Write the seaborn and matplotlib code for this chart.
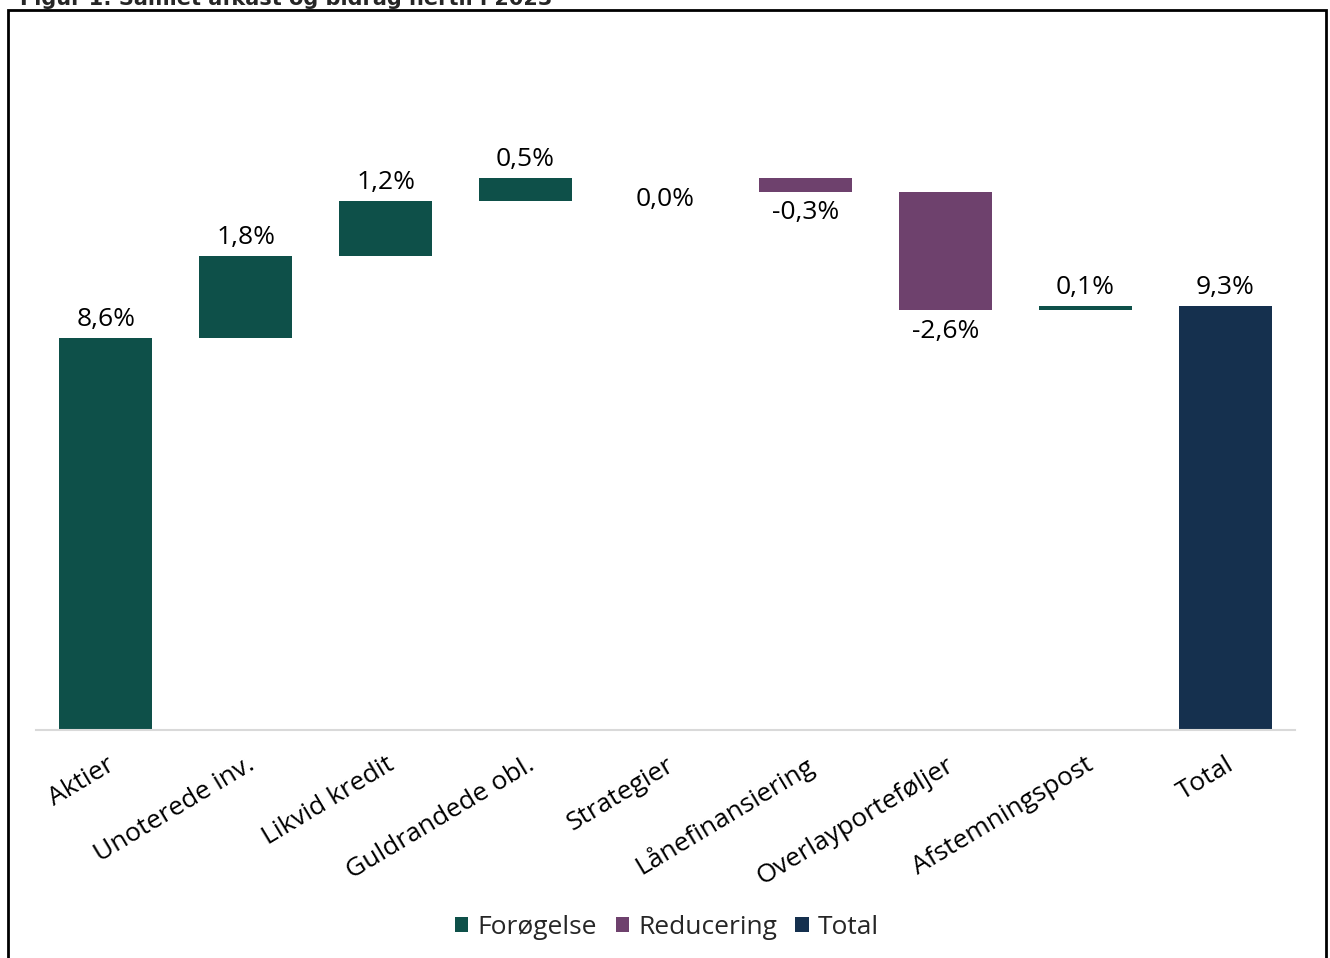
import matplotlib
matplotlib.use("Agg")
import matplotlib.pyplot as plt
import seaborn as sns
import numpy as np
from matplotlib.patches import Patch, Rectangle

categories = ["Aktier", "Unoterede inv.", "Likvid kredit", "Guldrandede obl.",
              "Strategier", "Lånefinansiering", "Overlayporteføljer",
              "Afstemningspost", "Total"]
values = [8.6, 1.8, 1.2, 0.5, 0.0, -0.3, -2.6, 0.1, 9.3]
kinds = ["inc", "inc", "inc", "inc", "inc", "dec", "dec", "inc", "total"]
labels = ["8,6%", "1,8%", "1,2%", "0,5%", "0,0%", "-0,3%", "-2,6%", "0,1%", "9,3%"]
legend_names = ["Forøgelse", "Reducering", "Total"]
title = "Figur 1: Samlet afkast og bidrag hertil i 2023"

colors = {"inc": "#0E5049", "dec": "#6E416D", "total": "#15304E"}

# waterfall geometry from values
bottoms, heights = [], []
cum = 0.0
for v, k in zip(values, kinds):
    if k == "total":
        bottoms.append(0.0); heights.append(v)
    else:
        start = cum
        cum = cum + v
        bottoms.append(min(start, cum)); heights.append(abs(v))

sns.set_theme(style="white")
plt.rcParams["font.family"] = ["Open Sans", "DejaVu Sans"]

fig = plt.figure(figsize=(13.3, 9.58), dpi=100)
ax = fig.add_axes([36/1330, 228/958, (1295-36)/1330, (730-46)/958])

sns.barplot(x=categories, y=heights, bottom=bottoms, color=colors["inc"],
            width=0.665, errorbar=None, ax=ax, linewidth=0)
for p, k in zip(ax.patches, kinds):
    p.set_facecolor(colors[k])

ax.set_xlim(-0.5, 8.5)
ax.set_ylim(0, 15)

for i, (v, k, lab) in enumerate(zip(values, kinds, labels)):
    if v > 0:
        y = bottoms[i] + heights[i]
        ax.annotate(lab, (i, y), xytext=(0, 13.5), textcoords="offset points",
                    ha="center", va="center", fontsize=19, color="black")
    else:
        y = bottoms[i]
        ax.annotate(lab, (i, y), xytext=(0, -15), textcoords="offset points",
                    ha="center", va="center", fontsize=19, color="black")

for s in ["top", "right", "left"]:
    ax.spines[s].set_visible(False)
ax.spines["bottom"].set_color("#D9D9D9")
ax.spines["bottom"].set_linewidth(1.5)
ax.set_yticks([])
ax.set_ylabel("")
ax.set_xticks(range(len(categories)))
ax.set_xticklabels(categories, rotation=31, ha="right", rotation_mode="anchor",
                   fontsize=19, color="black")
ax.tick_params(axis="x", which="major", length=0, pad=16)
ax.set_xticks(np.arange(-0.5, 9.0, 1.0), minor=True)
ax.tick_params(axis="x", which="minor", length=8, direction="inout",
               color="#D9D9D9", width=1.5)

handles = [Patch(facecolor=colors[k], edgecolor="none") for k in ["inc", "dec", "total"]]
fig.legend(handles, legend_names, loc="center", bbox_to_anchor=(667/1330, 1 - 927/958),
           ncol=3, frameon=False, fontsize=19, handlelength=0.5, handleheight=0.5,
           handletextpad=0.35, columnspacing=0.7)

fig.add_artist(Rectangle((8/1330, -0.05), (1326-8)/1330, 1.05 - 10/958,
                         transform=fig.transFigure, fill=False, edgecolor="black",
                         linewidth=2))
fig.text(20/1330, 1 - 5/958, title, ha="left", va="baseline", fontsize=15,
         fontweight="bold", family=["DejaVu Sans"])

fig.savefig("out.png", dpi=100)
